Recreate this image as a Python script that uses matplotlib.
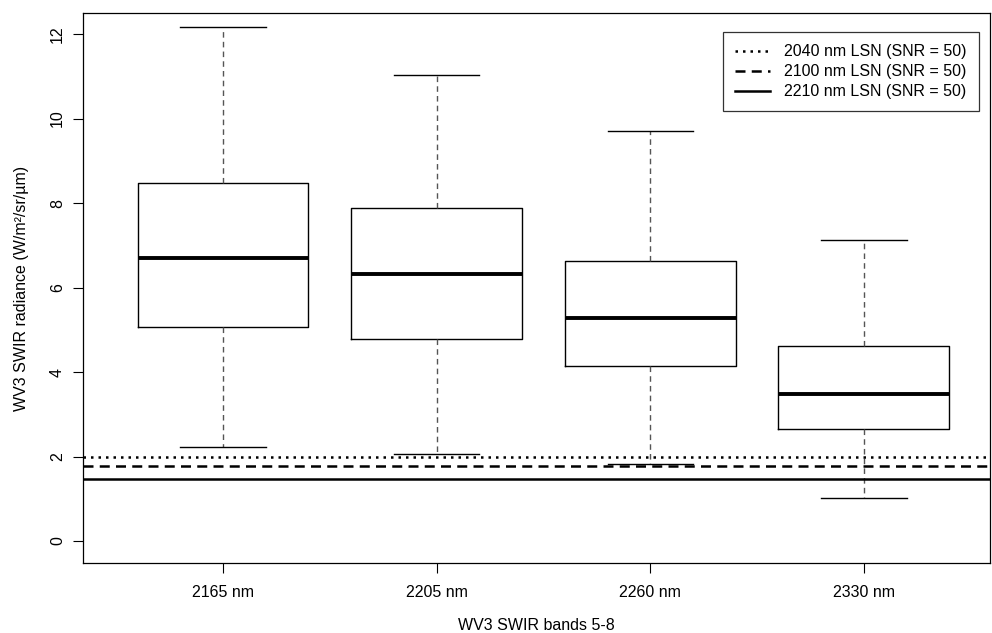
import numpy as np
import matplotlib
matplotlib.use("Agg")
import matplotlib.pyplot as plt
from matplotlib.lines import Line2D

plt.rcParams["font.family"] = ["Liberation Sans", "DejaVu Sans"]

# WV3 SWIR band summaries (radiance, W/m2/sr/um)
bands = ["2165 nm", "2205 nm", "2260 nm", "2330 nm"]
whisk_lo = [2.22, 2.07, 1.82, 1.03]
q1 = [5.07, 4.78, 4.14, 2.65]
median = [6.70, 6.32, 5.28, 3.48]
q3 = [8.47, 7.88, 6.63, 4.62]
whisk_hi = [12.17, 11.04, 9.70, 7.13]

# noise-equivalent radiance levels
lsn_labels = ["2040 nm LSN (SNR = 50)", "2100 nm LSN (SNR = 50)", "2210 nm LSN (SNR = 50)"]
lsn_values = [2.0, 1.77, 1.47]
lsn_styles = [(0, (1, 2)), (0, (4, 2.5)), "-"]

FS = 11.5

stats = [dict(label=b, whislo=lo, q1=a, med=m, q3=c, whishi=hi, fliers=[])
         for b, lo, a, m, c, hi in zip(bands, whisk_lo, q1, median, q3, whisk_hi)]

fig = plt.figure(figsize=(9.92, 6.33), dpi=100)
ax = fig.add_axes([0.0837, 0.1106, 0.9143, 0.8689])

ax.bxp(stats, positions=[1, 2, 3, 4], widths=0.8, showfliers=False,
       boxprops=dict(color="black", lw=1.0),
       medianprops=dict(color="black", lw=2.8, solid_capstyle="butt"),
       whiskerprops=dict(color="#555555", lw=1.0, ls=(0, (4, 3))),
       capprops=dict(color="black", lw=1.0), capwidths=0.4)

for v, ls in zip(lsn_values, lsn_styles):
    ax.axhline(v, color="black", lw=1.8, ls=ls, zorder=3)

ax.set_xlim(0.345, 4.59)
ax.set_ylim(-0.52, 12.5)
ax.set_yticks([0, 2, 4, 6, 8, 10, 12])
ax.set_xticks([1, 2, 3, 4])
ax.set_xticklabels(bands)
ax.tick_params(axis="both", direction="out", length=7, width=0.8, labelsize=FS, colors="black")
ax.tick_params(axis="x", pad=9)
ax.tick_params(axis="y", pad=6)
for lab in ax.get_yticklabels():
    lab.set_rotation(90)
    lab.set_va("center")
for s in ax.spines.values():
    s.set_linewidth(0.9)

ax.set_xlabel("WV3 SWIR bands 5-8", fontsize=FS, labelpad=13)
ax.set_ylabel("WV3 SWIR radiance (W/m²/sr/µm)", fontsize=FS, labelpad=15)

handles = [Line2D([], [], color="black", lw=1.8, ls=ls) for ls in lsn_styles]
leg = ax.legend(handles, lsn_labels, loc="upper right", bbox_to_anchor=(0.9875, 0.965),
                fontsize=FS, frameon=True, fancybox=False, handlelength=2.2,
                borderpad=0.75, labelspacing=0.32, handletextpad=0.9, borderaxespad=0)
leg.get_frame().set_edgecolor("black")
leg.get_frame().set_linewidth(0.9)

fig.savefig("out.png", dpi=100)
